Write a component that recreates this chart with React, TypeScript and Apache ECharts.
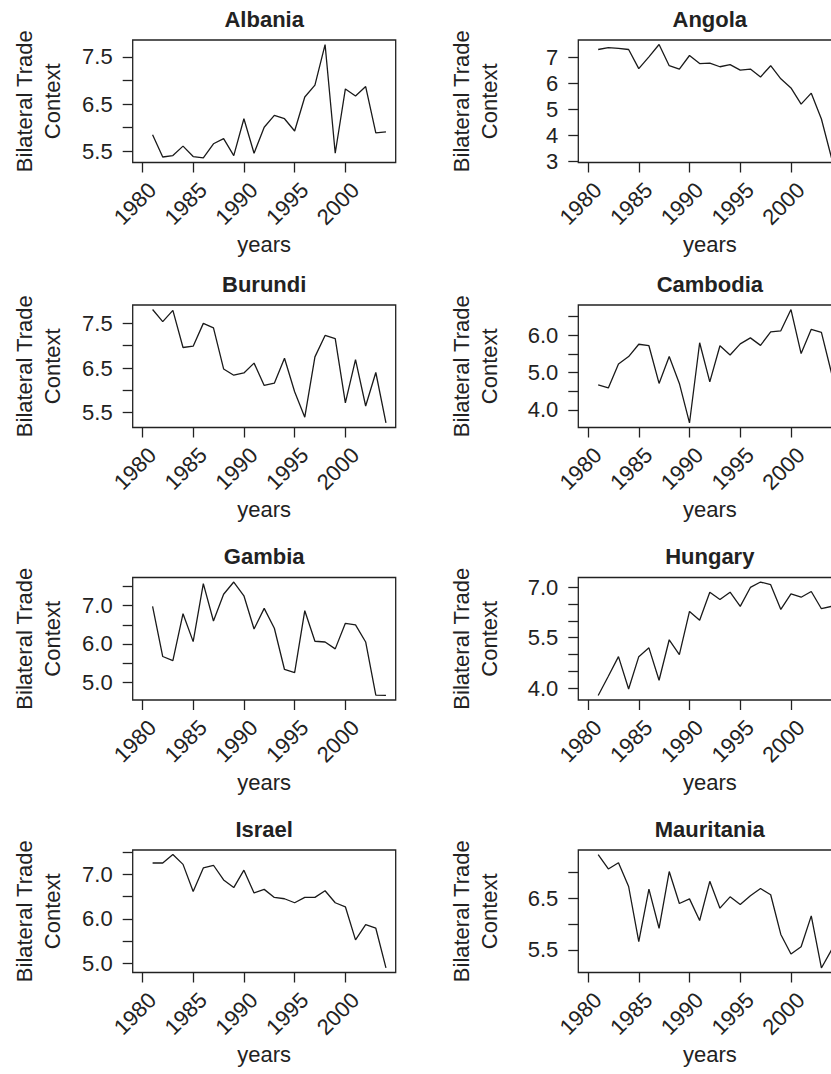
import React, { useEffect, useRef } from "react";
import * as echarts from "echarts";

// ---------- data ----------
const years = [
  1981, 1982, 1983, 1984, 1985, 1986, 1987, 1988, 1989, 1990, 1991, 1992,
  1993, 1994, 1995, 1996, 1997, 1998, 1999, 2000, 2001, 2002, 2003, 2004,
];
const xRangeYears = [1980, 2004];
const xTickValues = [1980, 1985, 1990, 1995, 2000];

const albaniaValues = [5.85, 5.38, 5.41, 5.61, 5.39, 5.36, 5.66, 5.77, 5.41, 6.19, 5.46, 6.01, 6.26, 6.19, 5.93, 6.65, 6.9, 7.76, 5.46, 6.82, 6.67, 6.87, 5.89, 5.91];
const albaniaTicks = [5.5, 6.0, 6.5, 7.0, 7.5];
const albaniaLabels = [5.5, 6.5, 7.5];

const angolaValues = [7.29, 7.36, 7.33, 7.29, 6.56, 7.01, 7.48, 6.67, 6.54, 7.06, 6.75, 6.77, 6.63, 6.71, 6.5, 6.54, 6.24, 6.67, 6.17, 5.82, 5.2, 5.62, 4.63, 3.14];
const angolaTicks = [3, 4, 5, 6, 7];
const angolaLabels = [3, 4, 5, 6, 7];

const burundiValues = [7.81, 7.54, 7.79, 6.96, 6.99, 7.5, 7.4, 6.48, 6.34, 6.39, 6.61, 6.11, 6.16, 6.72, 5.97, 5.4, 6.75, 7.23, 7.16, 5.72, 6.69, 5.65, 6.4, 5.27];
const burundiTicks = [5.5, 6.0, 6.5, 7.0, 7.5];
const burundiLabels = [5.5, 6.5, 7.5];

const cambodiaValues = [4.67, 4.59, 5.23, 5.43, 5.76, 5.72, 4.71, 5.43, 4.71, 3.65, 5.8, 4.75, 5.72, 5.47, 5.77, 5.93, 5.73, 6.09, 6.12, 6.69, 5.51, 6.16, 6.08, 4.98];
const cambodiaTicks = [4.0, 4.5, 5.0, 5.5, 6.0, 6.5];
const cambodiaLabels = [4.0, 5.0, 6.0];

const gambiaValues = [6.98, 5.67, 5.56, 6.79, 6.06, 7.58, 6.6, 7.3, 7.62, 7.26, 6.39, 6.93, 6.41, 5.33, 5.25, 6.87, 6.07, 6.05, 5.87, 6.54, 6.5, 6.05, 4.66, 4.65];
const gambiaTicks = [5.0, 5.5, 6.0, 6.5, 7.0, 7.5];
const gambiaLabels = [5.0, 6.0, 7.0];

const hungaryValues = [3.79, 4.36, 4.94, 3.98, 4.94, 5.2, 4.24, 5.44, 5.0, 6.28, 6.02, 6.85, 6.63, 6.85, 6.43, 6.99, 7.15, 7.07, 6.34, 6.8, 6.7, 6.87, 6.36, 6.43];
const hungaryTicks = [4.0, 4.5, 5.0, 5.5, 6.0, 6.5, 7.0];
const hungaryLabels = [4.0, 5.5, 7.0];

const israelValues = [7.25, 7.25, 7.44, 7.22, 6.61, 7.14, 7.2, 6.87, 6.7, 7.09, 6.58, 6.66, 6.48, 6.45, 6.36, 6.48, 6.48, 6.63, 6.36, 6.27, 5.53, 5.87, 5.79, 4.9];
const israelTicks = [5.0, 5.5, 6.0, 6.5, 7.0, 7.5];
const israelLabels = [5.0, 6.0, 7.0];

const mauritaniaValues = [7.35, 7.07, 7.19, 6.73, 5.66, 6.68, 5.92, 7.02, 6.4, 6.49, 6.07, 6.83, 6.31, 6.53, 6.38, 6.55, 6.69, 6.57, 5.8, 5.42, 5.56, 6.16, 5.15, 5.5];
const mauritaniaTicks = [5.5, 6.0, 6.5, 7.0];
const mauritaniaLabels = [5.5, 6.5];

const panels = [
  { name: "Albania", values: albaniaValues, ticks: albaniaTicks, labels: albaniaLabels, decimals: 1 },
  { name: "Angola", values: angolaValues, ticks: angolaTicks, labels: angolaLabels, decimals: 0 },
  { name: "Burundi", values: burundiValues, ticks: burundiTicks, labels: burundiLabels, decimals: 1 },
  { name: "Cambodia", values: cambodiaValues, ticks: cambodiaTicks, labels: cambodiaLabels, decimals: 1 },
  { name: "Gambia", values: gambiaValues, ticks: gambiaTicks, labels: gambiaLabels, decimals: 1 },
  { name: "Hungary", values: hungaryValues, ticks: hungaryTicks, labels: hungaryLabels, decimals: 1 },
  { name: "Israel", values: israelValues, ticks: israelTicks, labels: israelLabels, decimals: 1 },
  { name: "Mauritania", values: mauritaniaValues, ticks: mauritaniaTicks, labels: mauritaniaLabels, decimals: 1 },
];

// ---------- layout / style ----------
const FONT = "'Liberation Sans', Arial, Helvetica, sans-serif";
const INK = "#222";
const colLeft = [132.7, 578.3];
const rowTop = [40, 305, 577.5, 850];
const boxW = 263;
const boxH = 122.5;
const yNameGap = [66, 75];

// R-style 4% range extension
const extend = (lo: number, hi: number) => {
  const d = (hi - lo) * 0.04;
  return [lo - d, hi + d];
};

function buildOption() {
  const [xMin, xMax] = extend(xRangeYears[0], xRangeYears[1]);
  const grid: any[] = [];
  const xAxis: any[] = [];
  const yAxis: any[] = [];
  const series: any[] = [];
  const title: any[] = [];

  panels.forEach((p, i) => {
    const col = i % 2;
    const row = Math.floor(i / 2);
    const [yMin, yMax] = extend(Math.min(...p.values), Math.max(...p.values));
    grid.push({
      left: colLeft[col],
      top: rowTop[row],
      width: boxW,
      height: boxH,
      show: true,
      borderColor: INK,
      borderWidth: 1.3,
      backgroundColor: "transparent",
      containLabel: false,
      outerBoundsMode: "none",
    });
    title.push({
      text: p.name,
      left: colLeft[col] + boxW / 2,
      top: rowTop[row] - 32,
      textAlign: "center",
      padding: 0,
      textStyle: { fontSize: 22, fontWeight: "bold", color: INK, fontFamily: FONT, lineHeight: 22 },
    });
    xAxis.push({
      type: "value",
      gridIndex: i,
      min: xMin,
      max: xMax,
      axisLine: { show: false, onZero: false },
      splitLine: { show: false },
      axisTick: {
        show: true,
        length: 10,
        customValues: xTickValues,
        lineStyle: { color: INK, width: 1.3 },
      },
      axisLabel: {
        customValues: xTickValues,
        rotate: 45,
        align: "right",
        verticalAlign: "top",
        lineHeight: 28,
        margin: 14,
        fontSize: 22,
        color: INK,
        fontFamily: FONT,
        formatter: (v: number) => String(v),
      },
      name: "years",
      nameLocation: "middle",
      nameGap: 71,
      nameTextStyle: { fontSize: 22, color: INK, fontFamily: FONT },
    });
    yAxis.push({
      type: "value",
      gridIndex: i,
      min: yMin,
      max: yMax,
      axisLine: { show: false, onZero: false },
      splitLine: { show: false },
      axisTick: {
        show: true,
        length: 10,
        customValues: p.ticks,
        lineStyle: { color: INK, width: 1.3 },
      },
      axisLabel: {
        customValues: p.labels,
        margin: 20,
        fontSize: 22,
        color: INK,
        fontFamily: FONT,
        formatter: (v: number) => v.toFixed(p.decimals),
      },
      name: "Bilateral Trade\nContext",
      nameLocation: "middle",
      nameRotate: 90,
      nameGap: yNameGap[col],
      nameTextStyle: { fontSize: 22, lineHeight: 28, color: INK, fontFamily: FONT },
    });
    series.push({
      type: "line",
      xAxisIndex: i,
      yAxisIndex: i,
      data: years.map((yr, j) => [yr, p.values[j]]),
      symbol: "none",
      showSymbol: false,
      lineStyle: { color: "#1a1a1a", width: 1.3 },
    });
  });

  return {
    animation: false,
    backgroundColor: "#fff",
    title,
    grid,
    xAxis,
    yAxis,
    series,
  };
}

export default function App() {
  const ref = useRef<HTMLDivElement>(null);
  useEffect(() => {
    if (!ref.current) return;
    const chart = echarts.init(ref.current, null, { renderer: "svg" });
    chart.setOption(buildOption() as any);
    return () => chart.dispose();
  }, []);
  return (
    <div
      ref={ref}
      style={{ position: "absolute", left: 0, top: 0, width: 831, height: 1074, background: "#fff" }}
    />
  );
}
